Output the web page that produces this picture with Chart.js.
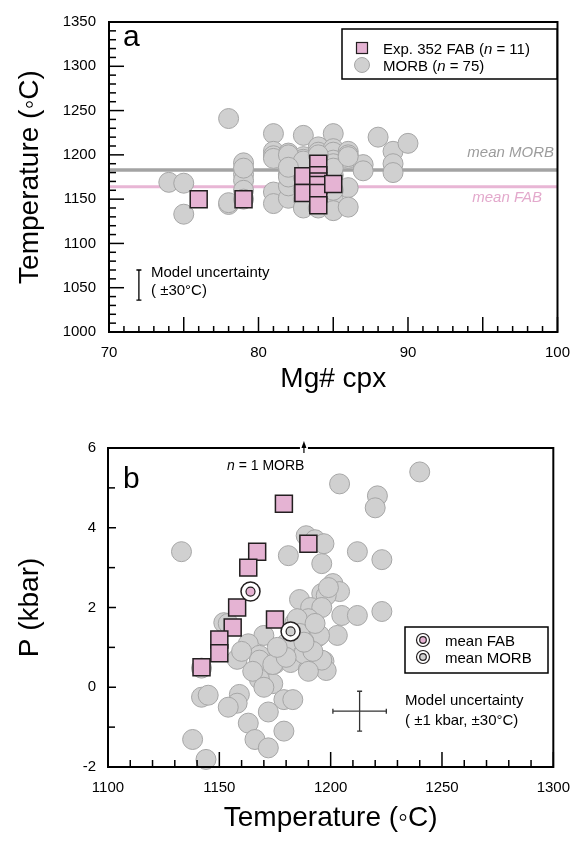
<!DOCTYPE html>
<html>
<head>
<meta charset="utf-8">
<script src="https://cdn.jsdelivr.net/npm/chart.js@4.4.0/dist/chart.umd.min.js"></script>
<style>
  body { margin: 0; background: #fff; }
  .wrap { position: relative; width: 582px; height: 842px; }
  canvas { position: absolute; left: 0; }
</style>
</head>
<body>
<div class="wrap">
  <canvas id="chartA" width="582" height="421" style="top:0"></canvas>
  <canvas id="chartB" width="582" height="421" style="top:421px"></canvas>
</div>
<script>
// ---- panel a: Mg# cpx vs temperature ----
const fabMg = [76, 79, 83, 83, 84, 84, 84, 84, 84, 84, 85];
const fabT = [1150, 1150, 1176, 1157, 1190, 1177, 1170, 1166, 1157, 1143, 1167];

const morbMg = [74, 75, 75, 78, 78, 78, 79, 79, 79, 79, 79, 81, 81, 81, 81, 81,
  82, 82, 82, 82, 82, 82, 82, 82, 83, 83, 83, 83, 83, 83, 83,
  84, 84, 84, 84, 84, 84, 84, 84, 85, 85, 85, 85, 85, 85, 85, 85, 85, 85,
  86, 86, 86, 86, 86, 87, 87, 88, 89, 89, 89, 90,
  82, 83, 84, 85, 81, 82, 83, 84, 86, 83, 84, 85, 82, 79];
const morbT = [1169, 1168, 1133, 1241, 1144, 1146, 1191, 1178, 1171, 1160, 1150, 1224, 1204, 1199, 1158, 1145,
  1202, 1198, 1195, 1190, 1186, 1178, 1151, 1165, 1222, 1198, 1195, 1185, 1162, 1150, 1140,
  1209, 1203, 1195, 1185, 1176, 1166, 1152, 1140, 1140, 1224, 1207, 1203, 1194, 1190, 1177, 1165, 1150, 1137,
  1204, 1200, 1196, 1163, 1141, 1189, 1182, 1220, 1204, 1190, 1180, 1213,
  1175, 1175, 1190, 1185, 1196, 1200, 1193, 1200, 1198, 1160, 1160, 1160, 1186, 1185];

const meanMorbT = 1183;
const meanFabT = 1164;
const mgTicks = [70, 80, 90, 100];
const tempTicksA = [1000, 1050, 1100, 1150, 1200, 1250, 1300, 1350];
const uncertA = { mg: 72, t: 1053, dt: 17 };

// ---- panel b: temperature vs pressure ----
const fabTb = [1179, 1190, 1167, 1163, 1158, 1156, 1150, 1150, 1142, 1175];
const fabP = [4.6, 3.6, 3.4, 3.0, 2.0, 1.5, 1.2, 0.85, 0.5, 1.7];

const morbTb = [1133, 1204, 1240, 1221, 1220, 1181, 1189, 1193, 1197, 1196, 1212, 1223,
  1201, 1196, 1204, 1198, 1186, 1191, 1196, 1205, 1212, 1223, 1190, 1184, 1190,
  1203, 1194, 1195, 1188, 1180, 1170, 1163, 1152, 1154, 1168, 1175, 1158, 1168,
  1182, 1190, 1197, 1198, 1188, 1174, 1168, 1142, 1142, 1145, 1159, 1158, 1154,
  1172, 1163, 1166, 1172, 1179, 1179, 1183, 1138, 1144, 1174, 1185, 1196, 1186,
  1193, 1199, 1180, 1176, 1192, 1165, 1160, 1190, 1170, 1188];
const morbP = [3.4, 5.1, 5.4, 4.8, 4.5, 3.3, 3.8, 3.7, 3.6, 3.1, 3.4, 3.2,
  2.6, 2.35, 2.4, 2.3, 2.2, 2.0, 2.0, 1.8, 1.8, 1.9, 1.72, 1.63, 1.47,
  1.3, 1.26, 1.3, 1.15, 1.09, 1.3, 1.09, 1.62, 1.6, 0.8, 0.59, 0.7, 0.68,
  0.62, 0.45, 0.65, 0.42, 0.84, 0.09, 0.2, 0.48, -0.25, -0.2, -0.18, -0.4, -0.5,
  -0.62, -0.9, -1.31, -1.52, -1.1, -0.31, -0.31, -1.31, -1.81, 0.57, 1.72, 0.68, 1.35,
  1.6, 2.5, 0.75, 1.0, 0.9, 0.4, 0.9, 0.4, 0.0, 1.13];

const meanFabB = { t: 1164, p: 2.4 };
const meanMorbB = { t: 1182, p: 1.4 };
const offScaleMorbT = 1188;
const tempTicksB = [1100, 1150, 1200, 1250, 1300];
const pTicks = [-2, 0, 2, 4, 6];
const uncertB = { t: 1213, p: -0.6, dt: 12, dp: 0.5 };

// ---- styles ----
const FONT = "'Liberation Sans', Arial, Helvetica, sans-serif";
const PINK = '#e5b3d3';
const PINK_LINE = '#e8b6d5';
const GREY_FILL = '#d0d0d0';
const GREY_EDGE = '#a6a6a6';
const DARK = '#231f20';

const pts = (xs, ys) => xs.map((x, i) => ({ x, y: ys[i] }));

function richText(ctx, segs, x, y, size) {
  let cx = x;
  segs.forEach(([txt, italic]) => {
    ctx.font = (italic ? 'italic ' : '') + size + 'px ' + FONT;
    ctx.fillText(txt, cx, y);
    cx += ctx.measureText(txt).width;
  });
}

function drawFrame(chart, t) {
  const { ctx, chartArea: { left, right, top, bottom }, scales: { x, y } } = chart;
  ctx.save();
  ctx.strokeStyle = '#000';
  ctx.lineWidth = 1.5;
  const isMajor = (v, m) => Math.abs(v / m - Math.round(v / m)) < 1e-6;
  for (let v = x.min; v <= x.max + 1e-6; v += t.xMinor) {
    const px = x.getPixelForValue(v);
    const len = isMajor(v, t.xMajor) ? t.xMajorLen : t.xMinorLen;
    ctx.beginPath(); ctx.moveTo(px, bottom); ctx.lineTo(px, bottom - len); ctx.stroke();
  }
  for (let v = y.min; v <= y.max + 1e-6; v += t.yMinor) {
    const py = y.getPixelForValue(v);
    const len = isMajor(v, t.yMajor) ? t.yMajorLen : t.yMinorLen;
    ctx.beginPath(); ctx.moveTo(left, py); ctx.lineTo(left + len, py); ctx.stroke();
  }
  ctx.lineWidth = 2;
  ctx.strokeRect(left, top, right - left, bottom - top);
  ctx.restore();
}

function axisTitles(chart, xt, yt, xTitleY) {
  const { ctx, chartArea: { left, right, top, bottom } } = chart;
  ctx.save();
  ctx.fillStyle = '#000';
  ctx.font = '28px ' + FONT;
  ctx.textAlign = 'center';
  ctx.textBaseline = 'middle';
  ctx.fillText(xt, (left + right) / 2, xTitleY);
  ctx.translate(30, (top + bottom) / 2);
  ctx.rotate(-Math.PI / 2);
  ctx.fillText(yt, 0, 0);
  ctx.restore();
}

const decorA = {
  id: 'decorA',
  afterDatasetsDraw(chart) {
    const { ctx, scales: { x, y } } = chart;
    drawFrame(chart, { xMinor: 1, xMajor: 5, xMinorLen: 6, xMajorLen: 15,
                       yMinor: 10, yMajor: 50, yMinorLen: 7, yMajorLen: 15 });
    axisTitles(chart, 'Mg# cpx', 'Temperature (\u25E6C)', 379);
    ctx.save();
    ctx.fillStyle = '#000';
    ctx.font = '30px ' + FONT;
    ctx.fillText('a', 123, 46);

    // mean labels
    ctx.font = 'italic 15px ' + FONT;
    ctx.textAlign = 'right';
    ctx.fillStyle = '#9c9c9c';
    ctx.fillText('mean MORB', 554, 157);
    ctx.fillStyle = '#e3a9cc';
    ctx.fillText('mean FAB', 542, 202);
    ctx.textAlign = 'left';

    // legend
    ctx.fillStyle = '#fff';
    ctx.fillRect(342, 29, 215, 50);
    ctx.strokeStyle = '#000';
    ctx.lineWidth = 1.5;
    ctx.strokeRect(342, 29, 215, 50);
    ctx.fillStyle = PINK;
    ctx.fillRect(356.5, 42.5, 11, 11);
    ctx.strokeStyle = DARK;
    ctx.lineWidth = 1.2;
    ctx.strokeRect(356.5, 42.5, 11, 11);
    ctx.beginPath();
    ctx.arc(362, 65, 7.5, 0, Math.PI * 2);
    ctx.fillStyle = GREY_FILL; ctx.fill();
    ctx.strokeStyle = GREY_EDGE; ctx.lineWidth = 1; ctx.stroke();
    ctx.fillStyle = '#000';
    richText(ctx, [['Exp. 352 FAB (', false], ['n', true], [' = 11)', false]], 383, 54, 15);
    richText(ctx, [['MORB (', false], ['n', true], [' = 75)', false]], 383, 71, 15);

    // model uncertainty bar
    const ux = x.getPixelForValue(uncertA.mg);
    const y1 = y.getPixelForValue(uncertA.t + uncertA.dt);
    const y2 = y.getPixelForValue(uncertA.t - uncertA.dt);
    ctx.strokeStyle = '#000';
    ctx.lineWidth = 1.3;
    ctx.beginPath();
    ctx.moveTo(ux, y1); ctx.lineTo(ux, y2);
    ctx.moveTo(ux - 2.5, y1); ctx.lineTo(ux + 2.5, y1);
    ctx.moveTo(ux - 2.5, y2); ctx.lineTo(ux + 2.5, y2);
    ctx.stroke();
    ctx.font = '15px ' + FONT;
    ctx.fillText('Model uncertainty', 151, 277);
    ctx.fillText('( \u00B130\u00B0C)', 151, 295);
    ctx.restore();
  }
};

const decorB = {
  id: 'decorB',
  afterDatasetsDraw(chart) {
    const { ctx, scales: { x, y }, chartArea: { top } } = chart;
    drawFrame(chart, { xMinor: 10, xMajor: 50, xMinorLen: 7, xMajorLen: 15,
                       yMinor: 1, yMajor: 2, yMinorLen: 7, yMajorLen: 8 });
    axisTitles(chart, 'Temperature (\u25E6C)', 'P (kbar)', 397);
    ctx.save();
    ctx.fillStyle = '#000';
    ctx.font = '30px ' + FONT;
    ctx.fillText('b', 123, 67);

    // off-scale arrow
    const ax = x.getPixelForValue(offScaleMorbT);
    ctx.fillStyle = '#fff';
    ctx.fillRect(ax - 4, top - 2, 8, 4);
    ctx.fillStyle = '#000';
    ctx.strokeStyle = '#000';
    ctx.lineWidth = 1.2;
    ctx.beginPath(); ctx.moveTo(ax, top + 5); ctx.lineTo(ax, top - 3); ctx.stroke();
    ctx.beginPath();
    ctx.moveTo(ax, top - 7); ctx.lineTo(ax - 2.5, top); ctx.lineTo(ax + 2.5, top); ctx.closePath();
    ctx.fill();
    richText(ctx, [['n', true], [' = 1 MORB', false]], 227, 49, 14);

    // legend
    ctx.fillStyle = '#fff';
    ctx.fillRect(405, 206, 143, 46);
    ctx.strokeStyle = '#000';
    ctx.lineWidth = 1.5;
    ctx.strokeRect(405, 206, 143, 46);
    [[219, PINK], [236, GREY_FILL]].forEach(([my, col]) => {
      ctx.beginPath(); ctx.arc(423, my, 6.5, 0, Math.PI * 2);
      ctx.fillStyle = '#fff'; ctx.fill();
      ctx.strokeStyle = DARK; ctx.lineWidth = 1.2; ctx.stroke();
      ctx.beginPath(); ctx.arc(423, my, 3.3, 0, Math.PI * 2);
      ctx.fillStyle = col; ctx.fill(); ctx.stroke();
    });
    ctx.fillStyle = '#000';
    ctx.font = '15px ' + FONT;
    ctx.fillText('mean FAB', 445, 225);
    ctx.fillText('mean MORB', 445, 242);

    // model uncertainty cross
    const cx = x.getPixelForValue(uncertB.t);
    const cy = y.getPixelForValue(uncertB.p);
    const xl = x.getPixelForValue(uncertB.t - uncertB.dt);
    const xr = x.getPixelForValue(uncertB.t + uncertB.dt);
    const yt = y.getPixelForValue(uncertB.p + uncertB.dp);
    const yb = y.getPixelForValue(uncertB.p - uncertB.dp);
    ctx.strokeStyle = '#333';
    ctx.lineWidth = 1.3;
    ctx.beginPath();
    ctx.moveTo(xl, cy); ctx.lineTo(xr, cy);
    ctx.moveTo(cx, yt); ctx.lineTo(cx, yb);
    ctx.moveTo(xl, cy - 2.5); ctx.lineTo(xl, cy + 2.5);
    ctx.moveTo(xr, cy - 2.5); ctx.lineTo(xr, cy + 2.5);
    ctx.moveTo(cx - 2.5, yt); ctx.lineTo(cx + 2.5, yt);
    ctx.moveTo(cx - 2.5, yb); ctx.lineTo(cx + 2.5, yb);
    ctx.stroke();
    ctx.fillStyle = '#000';
    ctx.fillText('Model uncertainty', 405, 284);
    ctx.fillText('( \u00B11 kbar, \u00B130\u00B0C)', 405, 304);
    ctx.restore();
  }
};

function axisOpts(min, max, list, pad, fit) {
  return {
    type: 'linear', min, max,
    afterBuildTicks: s => { s.ticks = list.map(v => ({ value: v })); },
    afterFit: fit,
    grid: { display: false, drawTicks: false },
    border: { display: false },
    ticks: { padding: pad, color: '#000', font: { family: FONT, size: 15 },
             callback: v => String(v) }
  };
}

const baseOpts = (top, xs, ys) => ({
  responsive: false,
  devicePixelRatio: 1,
  animation: false,
  layout: { padding: { top, right: 17, left: 0, bottom: 0 } },
  plugins: { legend: { display: false }, tooltip: { enabled: false } },
  scales: { x: xs, y: ys }
});

new Chart(document.getElementById('chartA'), {
  type: 'scatter',
  data: {
    datasets: [
      { label: 'Exp. 352 FAB', data: pts(fabMg, fabT), pointStyle: 'rect', pointRadius: 12,
        backgroundColor: PINK, borderColor: DARK, borderWidth: 1.5, order: 0, clip: false },
      { label: 'MORB', data: pts(morbMg, morbT), pointStyle: 'circle', pointRadius: 10,
        backgroundColor: GREY_FILL, borderColor: GREY_EDGE, borderWidth: 1, order: 1, clip: false },
      { type: 'line', label: 'mean MORB', data: [{ x: mgTicks[0], y: meanMorbT }, { x: mgTicks[mgTicks.length - 1], y: meanMorbT }],
        borderColor: '#a3a3a3', borderWidth: 3.5, pointRadius: 0, order: 2 },
      { type: 'line', label: 'mean FAB', data: [{ x: mgTicks[0], y: meanFabT }, { x: mgTicks[mgTicks.length - 1], y: meanFabT }],
        borderColor: PINK_LINE, borderWidth: 3, pointRadius: 0, order: 3 }
    ]
  },
  options: baseOpts(14,
    axisOpts(70, 100, mgTicks, 12, s => { s.height = 89; }),
    axisOpts(1000, 1350, tempTicksA, 13, s => { s.width = 109; })),
  plugins: [decorA]
});

new Chart(document.getElementById('chartB'), {
  type: 'scatter',
  data: {
    datasets: [
      { label: 'mean FAB', data: [{ x: meanFabB.t, y: meanFabB.p }], pointStyle: 'circle', pointRadius: 4.5,
        backgroundColor: PINK, borderColor: DARK, borderWidth: 1.2, order: 0 },
      { label: 'mean MORB', data: [{ x: meanMorbB.t, y: meanMorbB.p }], pointStyle: 'circle', pointRadius: 4.5,
        backgroundColor: GREY_FILL, borderColor: DARK, borderWidth: 1.2, order: 1 },
      { label: 'mean ring', data: [{ x: meanFabB.t, y: meanFabB.p }, { x: meanMorbB.t, y: meanMorbB.p }],
        pointStyle: 'circle', pointRadius: 9.5, backgroundColor: '#fff', borderColor: DARK, borderWidth: 1.5, order: 2 },
      { label: 'Exp. 352 FAB', data: pts(fabTb, fabP), pointStyle: 'rect', pointRadius: 12,
        backgroundColor: PINK, borderColor: DARK, borderWidth: 1.5, order: 3, clip: false },
      { label: 'MORB', data: pts(morbTb, morbP), pointStyle: 'circle', pointRadius: 10,
        backgroundColor: GREY_FILL, borderColor: GREY_EDGE, borderWidth: 1, order: 4, clip: false }
    ]
  },
  options: baseOpts(27,
    axisOpts(1100, 1300, tempTicksB, 12, s => { s.height = 75; }),
    axisOpts(-2, 6, pTicks, 12, s => { s.width = 108; })),
  plugins: [decorB]
});
</script>
</body>
</html>
